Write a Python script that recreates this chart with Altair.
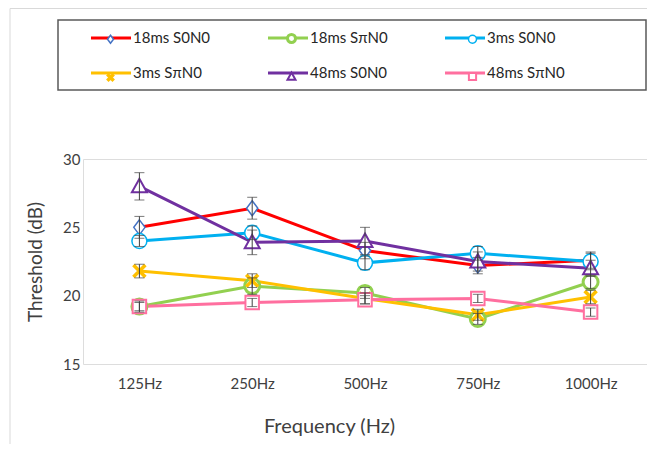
import altair as alt
import pandas as pd

cats = ["125Hz", "250Hz", "500Hz", "750Hz", "1000Hz"]
names = ["18ms S0N0", "18ms SπN0", "3ms S0N0", "3ms SπN0", "48ms S0N0", "48ms SπN0"]

v_18_s0 = [25.0, 26.4, 23.3, 22.2, 22.6]
v_18_spi = [19.2, 20.7, 20.2, 18.3, 21.0]
v_3_s0 = [24.0, 24.6, 22.4, 23.1, 22.5]
v_3_spi = [21.8, 21.1, 19.8, 18.6, 19.9]
v_48_s0 = [28.0, 23.9, 24.0, 22.5, 22.0]
v_48_spi = [19.2, 19.5, 19.7, 19.8, 18.8]

e_18_s0 = [0.8, 0.8, 0.6, 0.6, 0.6]
e_18_spi = [0.4, 0.6, 0.4, 0.4, 0.5]
e_3_s0 = [0.4, 0.5, 0.5, 0.5, 0.6]
e_3_spi = [0.5, 0.5, 0.4, 0.4, 0.5]
e_48_s0 = [1.0, 0.9, 1.0, 0.7, 0.6]
e_48_spi = [0.3, 0.3, 0.3, 0.3, 0.3]

values = [v_18_s0, v_18_spi, v_3_s0, v_3_spi, v_48_s0, v_48_spi]
errors = [e_18_s0, e_18_spi, e_3_s0, e_3_spi, e_48_s0, e_48_spi]

# marker-legend keys (distinct domain so Vega-Lite keeps it as its own legend)
names_m = [n + "\u200b" for n in names]

rows = []
for n, nm, vs, es in zip(names, names_m, values, errors):
    for c, v, e in zip(cats, vs, es):
        rows.append({"freq": c, "series": n, "series2": nm, "val": v, "lo": v - e, "hi": v + e})
df = pd.DataFrame(rows)

line_colors = ["#FF0000", "#92D050", "#00B0F0", "#FFC000", "#7030A0", "#FF6F9F"]
marker_colors = ["#4472C4", "#92D050", "#00B0F0", "#FFC000", "#7030A0", "#FF6F9F"]
marker_widths = [1.5, 3, 1.5, 3.5, 2, 2]

# legend symbol scale: sqrt(225)/2 = 7.5 px per unit
k = 0.533
def sc(v):
    return f"{v * k:.3f}"

diamond = f"M0,{sc(-1)}L{sc(0.75)},0L0,{sc(1)}L{sc(-0.75)},0Z"
circle = f"M{sc(1)},0A{sc(1)},{sc(1)} 0 1,1 {sc(-1)},0A{sc(1)},{sc(1)} 0 1,1 {sc(1)},0Z"
tri = f"M0,{sc(-1)}L{sc(1)},{sc(0.8)}L{sc(-1)},{sc(0.8)}Z"
xshape = f"M{sc(-0.8)},{sc(-0.8)}L{sc(0.8)},{sc(0.8)}M{sc(-0.8)},{sc(0.8)}L{sc(0.8)},{sc(-0.8)}"
square = f"M{sc(-0.9)},{sc(-0.9)}H{sc(0.9)}V{sc(0.9)}H{sc(-0.9)}Z"
shapes = [diamond, circle, circle, xshape, tri, square]
line_sym = "M-2.667,0H2.667"

FONT = "Lato"
TXT = "#404040"

x_enc = alt.X("freq:N", sort=cats, scale=alt.Scale(type="point", padding=0.5),
              axis=alt.Axis(title="Frequency (Hz)", labelAngle=0, domain=False, ticks=False,
                            grid=False, labelPadding=12, titlePadding=25, titleX=246,
                            labelFont=FONT, labelFontSize=15, labelColor=TXT,
                            titleFont=FONT, titleFontSize=20, titleFontWeight="normal", titleColor=TXT))
y_scale = alt.Scale(domain=[15, 30], nice=False, zero=False)
y_enc = alt.Y("val:Q", scale=y_scale,
              axis=alt.Axis(title="Threshold (dB)", values=[15, 20, 25, 30], domain=False, ticks=False,
                            grid=False, labelPadding=3, titlePadding=17,
                            labelFont=FONT, labelFontSize=15, labelColor=TXT,
                            titleFont=FONT, titleFontSize=19, titleFontWeight="normal", titleColor=TXT))

leg_line = alt.Legend(title=None, orient="none", legendX=19, legendY=-130, columns=3, direction="horizontal",
                      symbolSize=225, symbolType=line_sym, symbolStrokeWidth=3,
                      labelFont=FONT, labelFontSize=15, labelOffset=13, labelColor="#262626",
                      columnPadding=50, rowPadding=18, gridAlign="all", padding=0)
leg_pt = alt.Legend(title=None, orient="none", legendX=18, legendY=-130, columns=3, direction="horizontal",
                    symbolSize=225, symbolFillColor="white", labelExpr="''",
                    labelFont=FONT, labelFontSize=15, labelOffset=0,
                    columnPadding=160, rowPadding=18, gridAlign="all", padding=0)

base = alt.Chart(df)

lines = base.mark_line(strokeWidth=3).encode(
    x=x_enc, y=y_enc,
    color=alt.Color("series:N", sort=names, scale=alt.Scale(domain=names, range=line_colors), legend=leg_line),
)

points = base.mark_point(filled=False, fill="white", size=791, opacity=1).encode(
    x=alt.X("freq:N", sort=cats), y=alt.Y("val:Q"),
    stroke=alt.Stroke("series2:N", scale=alt.Scale(domain=names_m, range=marker_colors), legend=leg_pt),
    shape=alt.Shape("series2:N", scale=alt.Scale(domain=names_m, range=shapes), legend=leg_pt),
    strokeWidth=alt.StrokeWidth("series2:N", scale=alt.Scale(type="ordinal", domain=names_m, range=marker_widths), legend=leg_pt),
)

err = base.mark_rule(color="#404040", strokeWidth=1).encode(
    x=alt.X("freq:N", sort=cats), y=alt.Y("lo:Q"), y2="hi:Q")
cap_lo = base.mark_tick(color="#404040", thickness=1, size=10, orient="horizontal").encode(
    x=alt.X("freq:N", sort=cats), y=alt.Y("lo:Q"))
cap_hi = base.mark_tick(color="#404040", thickness=1, size=10, orient="horizontal").encode(
    x=alt.X("freq:N", sort=cats), y=alt.Y("hi:Q"))

one = alt.Chart(pd.DataFrame({"a": [0]}))
outer = one.mark_rect(fill="transparent", stroke="#d9d9d9", strokeWidth=1).encode(
    x=alt.value(-73), x2=alt.value(600), y=alt.value(-150.5), y2=alt.value(400))
legframe = one.mark_rect(fill="transparent", stroke="#595959", strokeWidth=1.5).encode(
    x=alt.value(-25), x2=alt.value(563), y=alt.value(-139), y2=alt.value(-69))

chart = alt.layer(outer, legframe, lines, points, err, cap_lo, cap_hi).properties(
    width=564, height=205, autosize="none",
    padding={"left": 75, "top": 151, "right": 0, "bottom": 80},
).configure_view(stroke=None).configure(background="white")

chart.save("out.html", embed_options={"renderer": "svg", "actions": False})
